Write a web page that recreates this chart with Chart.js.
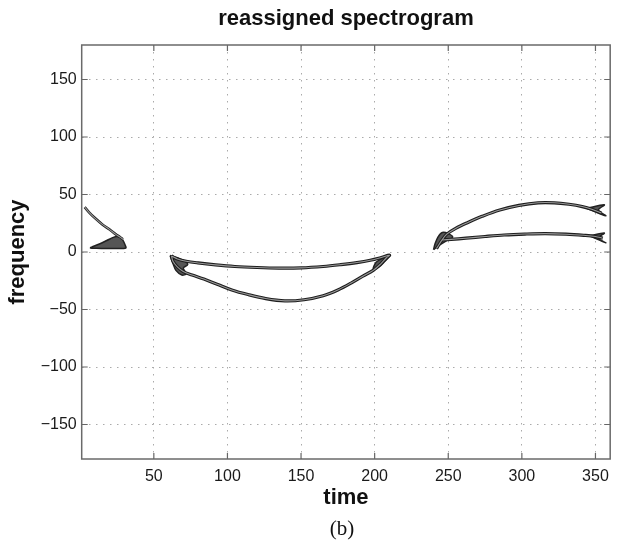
<!DOCTYPE html>
<html>
<head>
<meta charset="utf-8">
<script src="https://cdn.jsdelivr.net/npm/chart.js@4.4.1/dist/chart.umd.min.js"></script>
<style>
  html, body { margin: 0; background: #fff; }
  #wrap { position: relative; width: 617px; height: 543px; }
  #caption {
    position: absolute; left: 300px; width: 84px; top: 516px;
    font: 21px 'Liberation Serif', 'Times New Roman', serif;
    line-height: 24px; text-align: center; color: #111;
  }
</style>
</head>
<body>
<div id="wrap">
  <canvas id="chart-tfr" width="617" height="543"></canvas>
  <div id="caption">(b)</div>
</div>
<script>
const xTicks = [50, 100, 150, 200, 250, 300, 350];
const yTicks = [-150, -100, -50, 0, 50, 100, 150];

// left chirp, clipped at the start of the signal
const leftTailTime = [3, 6, 10, 15, 20, 24, 27, 29];
const leftTailFreq = [39, 34.5, 29.5, 24, 19.5, 15.5, 13, 11];
const leftBaseTime = [8, 13, 18, 22, 25, 28, 29.5, 30.5, 31, 25, 18, 11, 7, 8];
const leftBaseFreq = [4.5, 7, 10, 12.5, 13.5, 12, 9, 6, 3.5, 3, 3, 3.2, 3.5, 4.5];

// middle pair of ridges (negative frequencies)
const midUpperTime = [62, 66, 72, 80, 92, 105, 120, 135, 150, 165, 177, 188, 197, 204, 210];
const midUpperFreq = [-3.5, -6, -8, -9.5, -11.2, -12.6, -13.5, -14, -13.8, -12.6, -11, -9.2, -7.2, -5, -2.8];
const midLowerTime = [208, 204, 199, 192, 184, 175, 165, 152, 139, 126, 114, 103, 93, 84, 76, 70, 66, 63, 62];
const midLowerFreq = [-5, -10.5, -16, -21, -27, -33, -38, -41.5, -42.5, -40.5, -37, -33, -28, -23.5, -20, -17, -13, -8, -3.5];
const midLeftBlobTime = [61, 66, 71, 73, 70, 72, 69, 65, 63, 61];
const midLeftBlobFreq = [-3, -5, -8, -11, -14, -19, -20, -16, -10, -3];
const midRightBlobTime = [211, 206, 201, 199, 203, 207, 211];
const midRightBlobFreq = [-2.5, -5, -9, -15, -13, -8, -2.5];

// right pair of ridges (positive frequencies)
const rightUpperTime = [242, 245, 249, 255, 263, 273, 285, 298, 311, 322, 332, 341, 348, 354];
const rightUpperFreq = [3, 9, 15.5, 20.5, 25.5, 31, 36.5, 40.5, 42.8, 42.8, 41.5, 39.5, 37, 34];
const rightLowerTime = [246, 252, 262, 275, 288, 302, 316, 330, 342, 350, 355];
const rightLowerFreq = [10.5, 11, 12, 13.5, 14.8, 15.6, 16, 15.5, 14.5, 13.5, 12];
const rightBlobTime = [240, 244, 249, 253, 250, 246, 243, 241, 240];
const rightBlobFreq = [2, 6, 10, 13, 16, 17, 13, 7, 2];
const upperHeadTime = [344, 356, 352, 357, 344];
const upperHeadFreq = [38, 41, 36.5, 31.5, 38];
const lowerHeadTime = [346, 356, 352, 357, 346];
const lowerHeadFreq = [14, 16.5, 12, 8, 14];

const pts = (t, f) => t.map((x, i) => ({ x: x, y: f[i] }));

const ridge = (t, f, w) => ({
  data: pts(t, f), showLine: true, pointRadius: 0,
  borderColor: '#1e1e1e', borderWidth: w || 3.2, tension: 0.35, fill: false, order: 1
});
const inner = (t, f) => ({
  data: pts(t, f), showLine: true, pointRadius: 0,
  borderColor: '#9a9a9a', borderWidth: 1.1, tension: 0.35, fill: false, order: 0
});
const blob = (t, f) => ({
  data: pts(t, f), showLine: true, pointRadius: 0,
  borderColor: '#222', borderWidth: 1.5, backgroundColor: '#555',
  tension: 0.3, fill: 'shape', order: 2
});

const midLoopTime = midUpperTime.concat(midLowerTime);
const midLoopFreq = midUpperFreq.concat(midLowerFreq);

const boxAndTicks = {
  id: 'boxAndTicks',
  afterDraw(chart) {
    const { ctx, chartArea: a, scales: { x, y } } = chart;
    ctx.save();
    ctx.strokeStyle = '#666';
    ctx.lineWidth = 1.2;
    ctx.beginPath();
    x.ticks.forEach(t => {
      const px = x.getPixelForValue(t.value);
      ctx.moveTo(px, a.bottom); ctx.lineTo(px, a.bottom - 6);
      ctx.moveTo(px, a.top); ctx.lineTo(px, a.top + 6);
    });
    y.ticks.forEach(t => {
      const py = y.getPixelForValue(t.value);
      ctx.moveTo(a.left, py); ctx.lineTo(a.left + 6, py);
      ctx.moveTo(a.right, py); ctx.lineTo(a.right - 6, py);
    });
    ctx.stroke();
    ctx.lineWidth = 1.5;
    ctx.strokeStyle = '#6a6a6a';
    ctx.strokeRect(a.left, a.top, a.width, a.height);
    ctx.restore();
  }
};

Chart.defaults.font.family = "'Liberation Sans', Arial, sans-serif";
Chart.defaults.color = '#1a1a1a';

const minusLabel = v => String(v).replace('-', '\u2212');

new Chart(document.getElementById('chart-tfr'), {
  type: 'scatter',
  data: {
    datasets: [
      ridge(leftTailTime, leftTailFreq, 2.6),
      inner(leftTailTime, leftTailFreq),
      blob(leftBaseTime, leftBaseFreq),
      ridge(midLoopTime, midLoopFreq),
      inner(midLoopTime, midLoopFreq),
      blob(midLeftBlobTime, midLeftBlobFreq),
      blob(midRightBlobTime, midRightBlobFreq),
      ridge(rightUpperTime, rightUpperFreq),
      inner(rightUpperTime, rightUpperFreq),
      ridge(rightLowerTime, rightLowerFreq),
      inner(rightLowerTime, rightLowerFreq),
      blob(rightBlobTime, rightBlobFreq),
      blob(upperHeadTime, upperHeadFreq),
      blob(lowerHeadTime, lowerHeadFreq)
    ]
  },
  options: {
    responsive: false,
    animation: false,
    events: [],
    layout: { padding: { left: 0, right: 1.7, top: 0, bottom: 0 } },
    plugins: {
      legend: { display: false },
      tooltip: { enabled: false },
      title: {
        display: true,
        text: 'reassigned spectrogram',
        fullSize: false,
        color: '#111',
        font: { size: 22, weight: 'bold' },
        padding: { top: 6, bottom: 12.6 }
      }
    },
    scales: {
      x: {
        type: 'linear',
        min: 1,
        max: 360,
        afterBuildTicks: s => { s.ticks = xTicks.map(v => ({ value: v })); },
        afterFit: s => { s.height = 84; },
        grid: { color: '#aaa', lineWidth: 1, drawTicks: false },
        border: { display: false, dash: [1.5, 5.5] },
        ticks: { padding: 8, font: { size: 16 }, color: '#1a1a1a', callback: minusLabel },
        title: {
          display: true, text: 'time', color: '#111',
          font: { size: 22, weight: 'bold' },
          padding: { top: 0, bottom: 31.8 }
        }
      },
      y: {
        type: 'linear',
        min: -180,
        max: 180,
        afterBuildTicks: s => { s.ticks = yTicks.map(v => ({ value: v })); },
        afterFit: s => { s.width = 81.7; },
        grid: { color: '#aaa', lineWidth: 1, drawTicks: false },
        border: { display: false, dash: [1.5, 5.5] },
        ticks: { padding: 5, font: { size: 16 }, color: '#1a1a1a', callback: minusLabel },
        title: {
          display: true, text: 'frequency', color: '#111',
          font: { size: 22, weight: 'bold' },
          padding: { top: 4.3, bottom: 0 }
        }
      }
    }
  },
  plugins: [boxAndTicks]
});
</script>
</body>
</html>
